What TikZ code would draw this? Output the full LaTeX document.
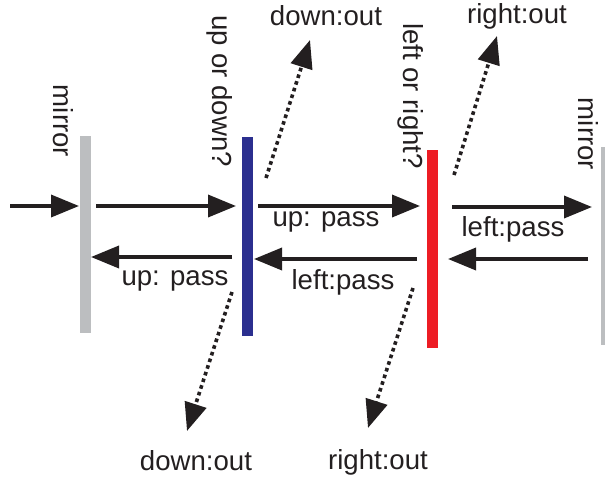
\documentclass[tikz,border=0pt]{standalone}
\usepackage{fontspec}
\setmainfont{Liberation Sans}
\usetikzlibrary{arrows.meta}
\definecolor{mirrorgray}{RGB}{188,190,192}
\definecolor{barblue}{RGB}{43,47,143}
\definecolor{barred}{RGB}{237,28,36}
\definecolor{ink}{RGB}{35,31,32}
\begin{document}
\begin{tikzpicture}[x=1pt,y=-1pt,
  lbl/.style={font=\fontsize{27.6}{30}\selectfont, text=ink, inner sep=0pt},
  vlbl/.style={lbl, rotate=-90},
  bar/.style={draw=none, inner sep=0pt, minimum width=11pt},
  beam/.style={draw=ink, line width=3.6pt, -{Triangle[length=28pt,width=22pt]}},
  leak/.style={draw=ink, line width=3.6pt, dash pattern=on 3.6pt off 3.4pt, -{Triangle[length=28pt,width=22pt]}}]
\useasboundingbox (0,0) rectangle (605,480);
% bars
\node[bar, fill=mirrorgray, minimum height=197pt] (m1) at (85.5,234.5) {};
\node[bar, fill=barblue, minimum height=199pt] (pb) at (247.5,236.5) {};
\node[bar, fill=barred, minimum height=198pt] (pr) at (432.5,249) {};
\node[bar, fill=mirrorgray, minimum height=198pt] (m2) at (606.5,246) {};
% vertical labels
\node[vlbl] (tm1) at (63,121) {mirror};
\node[vlbl] (tpb) at (220,91) {up or down?};
\node[vlbl] (tpr) at (411,96) {left or right?};
\node[vlbl] (tm2) at (588,134) {mirror};
% beam end points
\coordinate (in) at (10,206);
\coordinate (a1) at (79,206);
\coordinate (b0) at (96,206); \coordinate (b1) at (236,206);
\coordinate (c0) at (258,206); \coordinate (c1) at (420,206);
\coordinate (d0) at (452,207); \coordinate (d1) at (592,207);
\coordinate (e0) at (588,259); \coordinate (e1) at (448,259);
\coordinate (f0) at (417,259); \coordinate (f1) at (254,259);
\coordinate (g0) at (232,257); \coordinate (g1) at (91,257);
\draw[beam] (in) -- (a1);
\draw[beam] (b0) -- (b1);
\draw[beam] (c0) -- (c1);
\draw[beam] (d0) -- (d1);
\draw[beam] (e0) -- (e1);
\draw[beam] (f0) -- (f1);
\draw[beam] (g0) -- (g1);
% beam labels
\node[lbl] (lc) at (326,222) {up: pass};
\node[lbl] (ld) at (513,229) {left:pass};
\node[lbl] (lf) at (343,282) {left:pass};
\node[lbl] (lg) at (175,281) {up: pass};
% leak labels
\node[lbl] (o1) at (326,16) {down:out};
\node[lbl] (o2) at (517,16) {right:out};
\node[lbl] (o3) at (196,461) {down:out};
\node[lbl] (o4) at (378,462) {right:out};
% leaks
\coordinate (p1) at (266,178); \coordinate (q1) at (310,40);
\coordinate (p2) at (454,175); \coordinate (q2) at (497,36);
\coordinate (p3) at (232,292); \coordinate (q3) at (187,431);
\coordinate (p4) at (413,288); \coordinate (q4) at (368,428);
\draw[leak] (p1) -- (q1);
\draw[leak] (p2) -- (q2);
\draw[leak] (p3) -- (q3);
\draw[leak] (p4) -- (q4);
\end{tikzpicture}
\end{document}
